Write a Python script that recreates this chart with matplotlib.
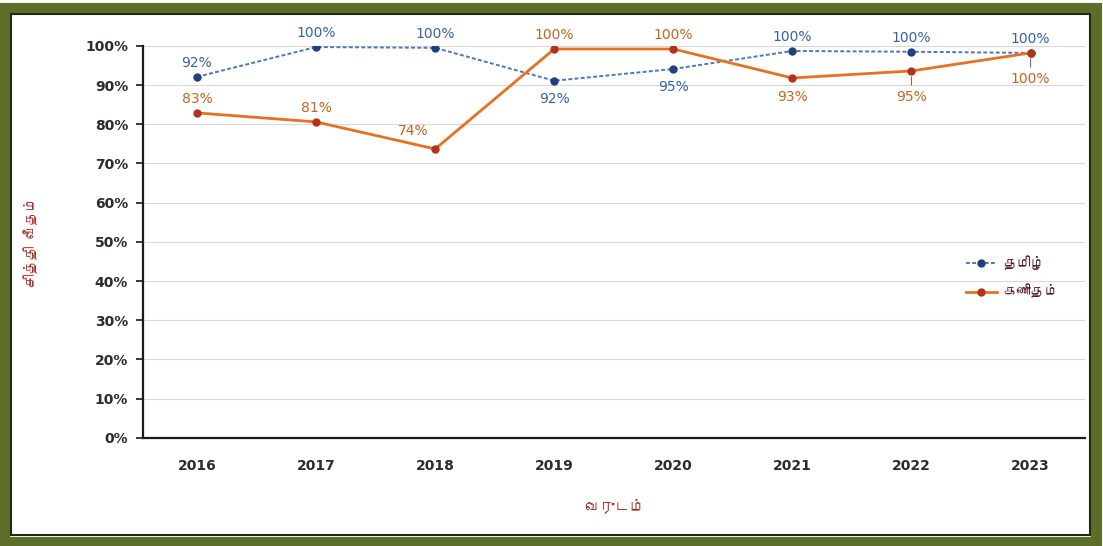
import numpy as np
import matplotlib
matplotlib.use("Agg")
import matplotlib.pyplot as plt
from matplotlib import font_manager
from matplotlib.ft2font import FT2Font
from matplotlib.patches import Rectangle

# ---- data ----
years = ["2016", "2017", "2018", "2019", "2020", "2021", "2022", "2023"]
tamil = [92.1, 99.7, 99.5, 91.1, 94.1, 98.7, 98.5, 98.2]
maths = [82.9, 80.6, 73.7, 99.2, 99.2, 91.8, 93.6, 98.2]
tamil_labels = ["92%", "100%", "100%", "92%", "95%", "100%", "100%", "100%"]
maths_labels = ["83%", "81%", "74%", "100%", "100%", "93%", "95%", "100%"]
series_names = ["தமிழ்", "கணிதம்"]
x_title = "வருடம்"
y_title = "சித்தி வீதம்"


def tamil_font():
    # look for any installed face that actually has Tamil glyphs
    for fe in font_manager.fontManager.ttflist:
        try:
            if FT2Font(fe.fname).get_char_index(0x0BA4):
                return fe.name
        except Exception:
            pass
    return None


tf = tamil_font()
tfam = [tf, "DejaVu Sans"] if tf else ["DejaVu Sans"]

plt.rcParams["font.family"] = ["DejaVu Sans"]

BLUE_LINE = "#4a78c0"
BLUE_MARK = "#1f3f80"
BLUE_TXT = "#3563a6"
ORNG_LINE = "#e8701e"
ORNG_MARK = "#b4321a"
ORNG_TXT = "#c8641e"
TITLE_C = "#a8322a"
TICK_C = "#2e2a30"

fig = plt.figure(figsize=(11.03, 5.46), dpi=100)
fig.patch.set_facecolor("white")

# green scanned frame
fig.patches.append(Rectangle((0.004, 0.008), 0.99, 0.978, transform=fig.transFigure,
                             fill=False, edgecolor="#5d6e2a", lw=8, zorder=0))
fig.patches.append(Rectangle((0.010, 0.020), 0.978, 0.955, transform=fig.transFigure,
                             fill=False, edgecolor="#20281a", lw=1.5, zorder=0))

ax = fig.add_axes([0.130, 0.198, 0.854, 0.718])
x = np.arange(len(years))

ax.plot(x, tamil, color=BLUE_LINE, lw=1.4, ls=(0, (2, 1.2)), marker="o", ms=5,
        mfc=BLUE_MARK, mec=BLUE_MARK, label=series_names[0], zorder=3)
ax.plot(x, maths, color=ORNG_LINE, lw=2.0, marker="o", ms=5,
        mfc=ORNG_MARK, mec=ORNG_MARK, label=series_names[1], zorder=4)

# data labels: offset in points (dx, dy)
t_off = [(0, 10), (0, 10), (0, 10), (0, -13), (0, -13), (0, 10), (0, 10), (0, 10)]
m_off = [(0, 10), (0, 10), (-16, 13), (0, 10), (0, 10), (0, -14), (0, -19), (0, -19)]
for i in range(len(x)):
    ax.annotate(tamil_labels[i], (x[i], tamil[i]), xytext=t_off[i], textcoords="offset points",
                ha="center", va="center", fontsize=10, color=BLUE_TXT, zorder=6)
    ax.annotate(maths_labels[i], (x[i], maths[i]), xytext=m_off[i], textcoords="offset points",
                ha="center", va="center", fontsize=10, color=ORNG_TXT, zorder=6)
# small leader lines for the last two maths labels
for i in (6, 7):
    ax.annotate("", (x[i], maths[i] - 0.8), xytext=(0, -10), textcoords="offset points",
                arrowprops=dict(arrowstyle="-", color="#8a6a5a", lw=0.8))

ax.set_xlim(-0.45, 7.46)
ax.set_ylim(0, 100)
ax.set_yticks(np.arange(0, 101, 10))
ax.set_yticklabels([f"{v}%" for v in range(0, 101, 10)])
ax.set_xticks(x)
ax.set_xticklabels(years)
ax.grid(axis="y", color="#d9d9d9", lw=0.8)
ax.set_axisbelow(True)
for s in ("top", "right"):
    ax.spines[s].set_visible(False)
ax.spines["left"].set_color("#1a1a1a")
ax.spines["bottom"].set_color("#1a1a1a")
ax.spines["left"].set_linewidth(1.6)
ax.spines["bottom"].set_linewidth(1.6)
ax.tick_params(axis="y", length=5, width=1.2, colors="#1a1a1a", labelcolor=TICK_C,
               labelsize=10, pad=6)
ax.tick_params(axis="x", length=0, labelcolor=TICK_C, labelsize=10, pad=15)
for lab in ax.get_xticklabels() + ax.get_yticklabels():
    lab.set_fontweight("bold")

ax.set_xlabel(x_title, family=tfam, color=TITLE_C, fontsize=11, fontweight="bold", labelpad=18)
ax.set_ylabel(y_title, family=tfam, color=TITLE_C, fontsize=10, fontweight="bold", labelpad=34)

leg = ax.legend(loc="center left", bbox_to_anchor=(0.86, 0.41), frameon=False,
                prop={"family": tfam, "size": 10, "weight": "bold"}, handlelength=2.2,
                labelspacing=1.0, handletextpad=0.5)
for t in leg.get_texts():
    t.set_color("#5a1a2a")

fig.savefig("out.png", dpi=100)
